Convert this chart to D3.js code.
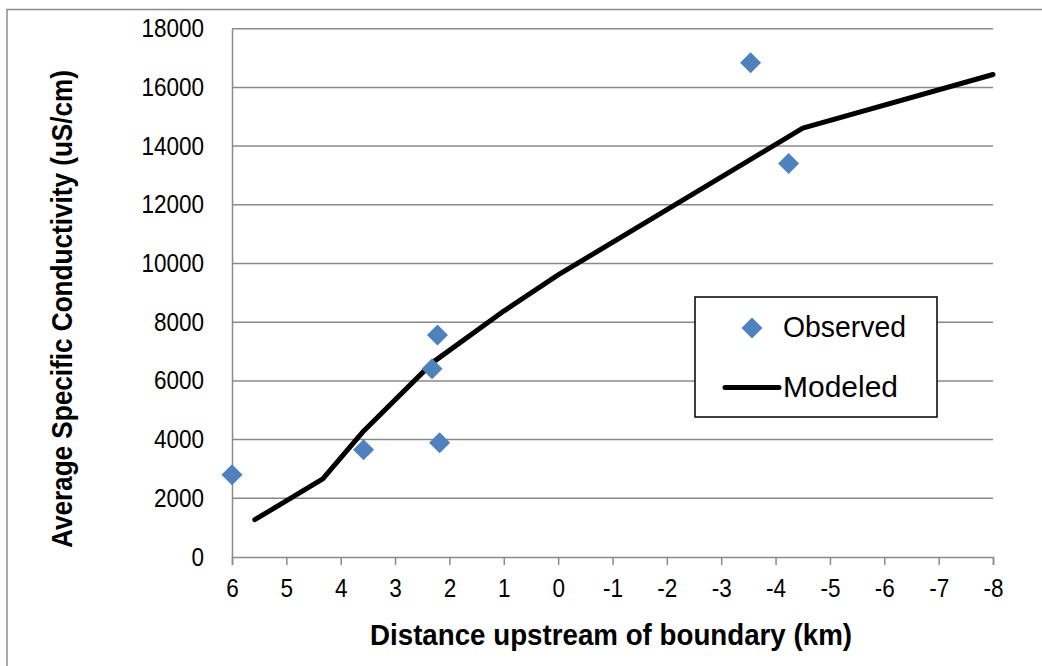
<!DOCTYPE html>
<html>
<head>
<meta charset="utf-8">
<script src="https://cdn.jsdelivr.net/npm/d3@7"></script>
<style>
  html, body { margin: 0; padding: 0; background: #ffffff; }
  svg { display: block; }
  text { font-family: "Liberation Sans", Arial, sans-serif; fill: #000; }
</style>
</head>
<body>
<svg id="chart" width="1042" height="666"></svg>
<script>
// Observed conductivity at sampling sites (distance in km, uS/cm)
const observedDistance = [6.0, 3.58, 2.18, 2.22, 2.32, -3.54, -4.24];
const observedConductivity = [2800, 3650, 3890, 7560, 6410, 16840, 13410];

// Modeled conductivity profile
const modeledDistance = [5.58, 4.33, 3.6, 2.3, 1, 0, -4.5, -8];
const modeledConductivity = [1270, 2660, 4250, 6640, 8380, 9610, 14610, 16440];

// Axis ticks
const xTicks = [6, 5, 4, 3, 2, 1, 0, -1, -2, -3, -4, -5, -6, -7, -8];
const yTicks = [0, 2000, 4000, 6000, 8000, 10000, 12000, 14000, 16000, 18000];

const svg = d3.select("#chart");
const gridColor = "#8a8a8a";
const narrow = 0.9; // horizontal squeeze for the tick labels

// Chart frame
svg.append("rect")
  .attr("x", 7).attr("y", 9.5)
  .attr("width", 1100).attr("height", 700)
  .attr("fill", "#fff")
  .attr("stroke", "#8c8c8c")
  .attr("stroke-width", 1.5);

const x = d3.scaleLinear().domain([6, -8]).range([232, 993]);
const y = d3.scaleLinear().domain([0, 18000]).range([557, 28.7]);

// Horizontal gridlines
svg.append("g")
  .selectAll("line")
  .data(yTicks.filter(d => d > 0))
  .join("line")
  .attr("x1", x(6)).attr("x2", x(-8))
  .attr("y1", d => y(d)).attr("y2", d => y(d))
  .attr("stroke", gridColor).attr("stroke-width", 1.5);

// Y axis
const yAxis = svg.append("g")
  .attr("transform", `translate(${x(6)},0)`)
  .call(d3.axisLeft(y).tickValues(yTicks).tickSize(0).tickFormat(d => String(d)));
yAxis.select(".domain").attr("stroke", gridColor).attr("stroke-width", 1.5);
yAxis.selectAll("text")
  .attr("font-size", 25).attr("font-family", null)
  .attr("x", -28 / narrow)
  .attr("transform", `scale(${narrow},1)`);

// X axis
const xAxis = svg.append("g")
  .attr("transform", `translate(0,${y(0)})`)
  .call(d3.axisBottom(x).tickValues(xTicks).tickSize(8).tickPadding(14).tickFormat(d => String(d)));
xAxis.select(".domain").attr("stroke", gridColor).attr("stroke-width", 1.5);
xAxis.selectAll(".tick line").attr("stroke", gridColor).attr("stroke-width", 1.5);
xAxis.selectAll("text")
  .attr("font-size", 25).attr("font-family", null)
  .attr("transform", `scale(${narrow},1)`);

// Axis titles
svg.append("text")
  .attr("x", 370).attr("y", 645)
  .attr("font-size", 30).attr("font-weight", "bold")
  .attr("textLength", 482).attr("lengthAdjust", "spacingAndGlyphs")
  .text("Distance upstream of boundary (km)");

svg.append("text")
  .attr("transform", "translate(72,548) rotate(-90)")
  .attr("font-size", 30).attr("font-weight", "bold")
  .attr("textLength", 478).attr("lengthAdjust", "spacingAndGlyphs")
  .text("Average Specific Conductivity (uS/cm)");

// Modeled line
const modeled = modeledDistance.map((d, i) => [d, modeledConductivity[i]]);
svg.append("path")
  .datum(modeled)
  .attr("fill", "none")
  .attr("stroke", "#000")
  .attr("stroke-width", 5)
  .attr("stroke-linejoin", "round")
  .attr("stroke-linecap", "round")
  .attr("d", d3.line().x(d => x(d[0])).y(d => y(d[1])));

// Observed markers
const r = 10.5;
const diamond = `M0,${-r}L${r},0L0,${r}L${-r},0Z`;
const observed = observedDistance.map((d, i) => [d, observedConductivity[i]]);
svg.append("g")
  .selectAll("path")
  .data(observed)
  .join("path")
  .attr("transform", d => `translate(${x(d[0])},${y(d[1])})`)
  .attr("d", diamond)
  .attr("fill", "#4f81bd");

// Legend
const legend = svg.append("g");
legend.append("rect")
  .attr("x", 695).attr("y", 297)
  .attr("width", 242).attr("height", 120)
  .attr("fill", "#fff").attr("stroke", "#000").attr("stroke-width", 1.5);
legend.append("path")
  .attr("transform", "translate(752,328)")
  .attr("d", diamond)
  .attr("fill", "#4f81bd");
legend.append("text")
  .attr("x", 783).attr("y", 337)
  .attr("font-size", 30)
  .attr("textLength", 123).attr("lengthAdjust", "spacingAndGlyphs")
  .text("Observed");
legend.append("line")
  .attr("x1", 725).attr("x2", 779)
  .attr("y1", 387.5).attr("y2", 387.5)
  .attr("stroke", "#000").attr("stroke-width", 5).attr("stroke-linecap", "round");
legend.append("text")
  .attr("x", 783).attr("y", 397)
  .attr("font-size", 30)
  .attr("textLength", 115).attr("lengthAdjust", "spacingAndGlyphs")
  .text("Modeled");
</script>
</body>
</html>
